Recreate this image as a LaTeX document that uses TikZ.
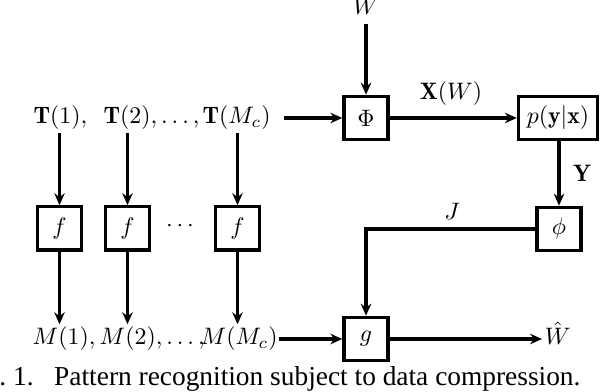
\documentclass[tikz,border=0pt]{standalone}
\usepackage{fontspec}
\newfontfamily\capfont{Liberation Serif}
\usetikzlibrary{arrows.meta,positioning}

\begin{document}
\begin{tikzpicture}[x=0.42pt, y=-0.42pt,
  blk/.style={draw, rectangle, line width=1.4pt, minimum width=18.5pt, minimum height=18.2pt, inner sep=2pt},
  lbl/.style={inner ysep=1pt, inner xsep=0.5pt, text height=7.5pt, text depth=2.5pt},
  arr/.style={-{Stealth[length=5pt,width=4.4pt]}, line width=1.3pt}
]
\useasboundingbox (0,0) rectangle (602,392);
% sources
\node[lbl] (w) at (366,9) {$W$};
\node[lbl, anchor=west] (t1) at (32,118) {$\mathbf{T}(1),$};
\node[lbl, anchor=west] (t2) at (102,118) {$\mathbf{T}(2),\ldots,$};
\node[lbl, anchor=west] (tm) at (201,118) {$\mathbf{T}(M_c)$};
% blocks
\node[blk] (phi) at (366,118) {$\Phi$};
\node[blk, minimum width=33.2pt] (p) at (558,118) {$p(\mathbf{y}|\mathbf{x})$};
\node[blk] (dec) at (559,229) {$\phi$};
\node[blk] (g) at (366,339) {$g$};
\node[blk] (f1) at (59.5,228.5) {$f$};
\node[blk] (f2) at (127.5,228.5) {$f$};
\node[blk] (fm) at (237.5,228.5) {$f$};
\node (dots) at (180,226) {$\cdots$};
% outputs
\node[lbl, anchor=west] (m1) at (31,339) {$M(1),$};
\node[lbl, anchor=west] (m2) at (98,339) {$M(2),\ldots,$};
\node[lbl, anchor=west] (mm) at (199,339) {$M(M_c)$};
\node[lbl, anchor=west, inner xsep=1pt] (what) at (542,339) {$\hat{W}$};
% labels
\node (xw) at (451,94) {$\mathbf{X}(W)$};
\node (ylab) at (582,173) {$\mathbf{Y}$};
\node (jlab) at (452,211) {$J$};
\node[anchor=base west, inner sep=0pt, font=\capfont\fontsize{11.5}{13}\selectfont] (cap) at (-1,385) {.\ 1.\hspace{0.75em}Pattern recognition subject to data compression.};
% connectors
\draw[arr] (w) -- (phi);
\draw[arr, shorten <=5pt] (tm) -- (phi);
\draw[arr] (phi) -- (p);
\draw[arr] (p.south -| dec) -- (dec);
\draw[arr] (dec.west) -| (g.north);
\draw[arr] (mm) -- (g);
\draw[arr] (g) -- (what);
\draw[arr] (f1 |- t1.south) -- (f1);
\draw[arr] (f2 |- t2.south) -- (f2);
\draw[arr] (fm |- tm.south) -- (fm);
\draw[arr] (f1) -- (f1 |- m1.north);
\draw[arr] (f2) -- (f2 |- m2.north);
\draw[arr] (fm) -- (fm |- mm.north);
\end{tikzpicture}
\end{document}
